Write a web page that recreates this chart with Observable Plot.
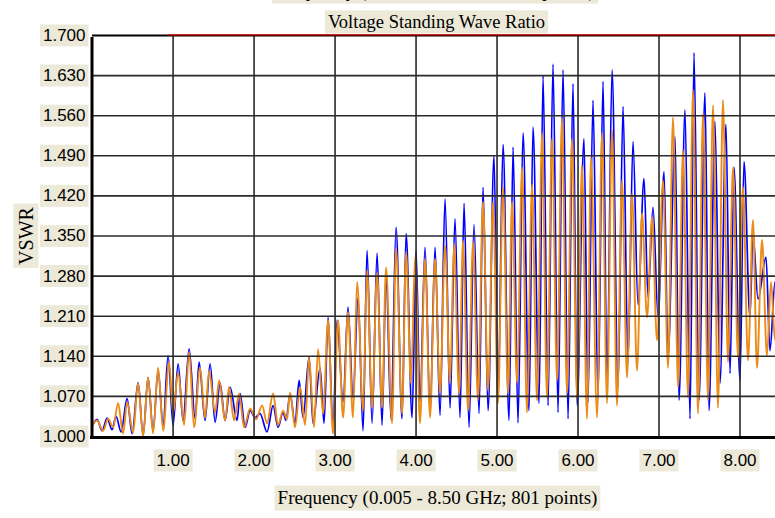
<!DOCTYPE html>
<html><head><meta charset="utf-8">
<script src="https://cdn.jsdelivr.net/npm/d3@7"></script>
<script src="https://cdn.jsdelivr.net/npm/@observablehq/plot@0.6"></script>
<style>html,body{margin:0;padding:0;background:#fff;overflow:hidden}</style>
</head><body>
<script>
// Frequency (GHz) / VSWR, series 1 (blue)
const blueFreq = [0.005,0.062,0.123,0.185,0.247,0.296,0.358,0.432,0.494,0.568,
0.630,0.691,0.753,0.815,0.877,0.938,1.000,1.062,1.123,1.198,
1.272,1.321,1.395,1.457,1.519,1.580,1.642,1.704,1.790,1.827,
1.889,1.951,2.012,2.074,2.160,2.235,2.296,2.358,2.395,2.444,
2.506,2.556,2.605,2.679,2.728,2.815,2.864,2.914,2.975,3.025,
3.099,3.160,3.222,3.284,3.346,3.395,3.457,3.519,3.580,3.630,
3.691,3.753,3.827,3.877,3.951,4.000,4.049,4.111,4.173,4.235,
4.296,4.358,4.420,4.481,4.543,4.593,4.654,4.716,4.778,4.827,
4.889,4.963,5.012,5.074,5.148,5.198,5.259,5.321,5.395,5.444,
5.519,5.568,5.630,5.691,5.753,5.815,5.877,5.938,5.988,6.074,
6.123,6.185,6.247,6.309,6.358,6.420,6.494,6.556,6.617,6.679,
6.741,6.815,6.864,6.926,6.988,7.062,7.111,7.198,7.247,7.321,
7.383,7.432,7.494,7.568,7.617,7.691,7.753,7.827,7.877,7.926,
8.000,8.049,8.123,8.160,8.222,8.321,8.370,8.432,8.494];
const blueVswr = [1.02,1.03,1.01,1.032,1.012,1.035,1.008,1.066,1.005,1.094,
1.002,1.103,1.01,1.115,1.02,1.141,1.02,1.127,1.028,1.153,
1.031,1.13,1.028,1.127,1.025,1.093,1.028,1.086,1.028,1.075,
1.016,1.045,1.033,1.04,1.008,1.054,1.016,1.042,1.028,1.075,
1.023,1.098,1.033,1.138,1.023,1.12,1.023,1.208,1.014,1.203,
1.06,1.226,1.068,1.243,1.01,1.325,1.023,1.32,1.02,1.286,
1.03,1.365,1.031,1.354,1.033,1.325,1.06,1.33,1.04,1.33,
1.037,1.415,1.05,1.38,1.033,1.407,1.016,1.37,1.04,1.435,
1.045,1.49,1.063,1.51,1.028,1.505,1.024,1.53,1.045,1.54,
1.058,1.63,1.054,1.65,1.042,1.64,1.031,1.616,1.054,1.52,
1.06,1.587,1.068,1.62,1.093,1.64,1.086,1.576,1.13,1.515,
1.23,1.45,1.243,1.40,1.208,1.462,1.138,1.523,1.063,1.57,
1.031,1.67,1.063,1.60,1.045,1.55,1.093,1.545,1.11,1.47,
1.098,1.48,1.208,1.355,1.24,1.313,1.15,1.27,1.12];

// series 2 (orange)
const orangeFreq = [0.005,0.062,0.136,0.198,0.259,0.321,0.383,0.432,0.506,0.568,
0.630,0.691,0.753,0.815,0.877,0.951,1.000,1.062,1.136,1.198,
1.259,1.333,1.395,1.444,1.519,1.568,1.642,1.691,1.753,1.815,
1.877,1.951,2.025,2.099,2.160,2.235,2.296,2.358,2.407,2.444,
2.506,2.568,2.630,2.679,2.741,2.790,2.852,2.914,2.975,3.037,
3.099,3.160,3.222,3.272,3.346,3.395,3.457,3.519,3.580,3.630,
3.704,3.753,3.827,3.877,3.938,3.988,4.049,4.111,4.173,4.235,
4.296,4.358,4.420,4.469,4.531,4.580,4.642,4.704,4.765,4.827,
4.889,4.951,5.012,5.074,5.136,5.185,5.247,5.309,5.370,5.432,
5.494,5.556,5.617,5.679,5.741,5.802,5.864,5.926,5.988,6.049,
6.111,6.160,6.235,6.296,6.358,6.420,6.481,6.543,6.605,6.667,
6.728,6.790,6.852,6.914,6.975,7.049,7.111,7.173,7.235,7.296,
7.358,7.420,7.481,7.543,7.605,7.667,7.728,7.790,7.852,7.914,
7.975,8.037,8.099,8.160,8.210,8.272,8.333,8.383,8.432,8.494];
const orangeVswr = [1.02,1.028,1.01,1.031,1.016,1.058,1.005,1.06,1.007,1.093,
1.0,1.103,1.005,1.12,1.01,1.13,1.04,1.112,1.02,1.147,
1.016,1.12,1.033,1.115,1.042,1.098,1.028,1.086,1.028,1.075,
1.016,1.049,1.03,1.054,1.023,1.075,1.02,1.045,1.03,1.077,
1.016,1.086,1.02,1.138,1.016,1.153,1.04,1.203,1.005,1.203,
1.033,1.217,1.033,1.27,1.045,1.29,1.05,1.285,1.05,1.295,
1.023,1.328,1.04,1.322,1.093,1.313,1.023,1.31,1.033,1.31,
1.075,1.333,1.093,1.337,1.075,1.342,1.045,1.34,1.063,1.41,
1.08,1.41,1.058,1.435,1.075,1.41,1.094,1.47,1.042,1.44,
1.063,1.53,1.068,1.52,1.098,1.556,1.075,1.52,1.068,1.473,
1.031,1.487,1.033,1.53,1.058,1.535,1.054,1.447,1.103,1.424,
1.115,1.39,1.208,1.383,1.168,1.447,1.12,1.557,1.086,1.50,
1.068,1.605,1.04,1.564,1.063,1.578,1.05,1.587,1.13,1.47,
1.138,1.436,1.133,1.378,1.12,1.343,1.141,1.27,1.168,1.25];

const xTicks = [1, 2, 3, 4, 5, 6, 7, 8];
const yTicks = [1.000, 1.070, 1.140, 1.210, 1.280, 1.350, 1.420, 1.490, 1.560, 1.630, 1.700];
const freqRange = [0.005, 8.5];
const limitLine = [{from: 0.94, to: 8.5, vswr: 1.7}];
const titleText = "Voltage Standing Wave Ratio";
const xLabelText = "Frequency (0.005 - 8.50 GHz; 801 points)";
const yLabelText = "VSWR";

const blue = blueFreq.map((f, i) => ({f, v: blueVswr[i]}));
const orange = orangeFreq.map((f, i) => ({f, v: orangeVswr[i]}));

const serif = "'Liberation Serif', 'Times New Roman', serif";
const sans = "'Liberation Sans', Arial, sans-serif";

const chart = Plot.plot({
  width: 775,
  height: 518,
  marginLeft: 92,
  marginRight: 0,
  marginTop: 35,
  marginBottom: 82,
  style: {background: "#fff", overflow: "visible"},
  x: {domain: freqRange, range: [92, 780], axis: null},
  y: {domain: [yTicks[0], yTicks[yTicks.length - 1]], axis: null},
  marks: [
    Plot.line(blue, {x: "f", y: "v", stroke: "#0000ff", strokeWidth: 1.7, curve: "monotone-x"}),
    Plot.line(orange, {x: "f", y: "v", stroke: "#ec8c18", strokeWidth: 1.9, curve: "monotone-x"}),
    Plot.ruleY(yTicks.slice(1, -1), {stroke: "#2a2a2a", strokeWidth: 1.6}),
    Plot.ruleX(xTicks, {stroke: "#2a2a2a", strokeWidth: 1.6}),
    Plot.ruleY([yTicks[yTicks.length - 1]], {stroke: "#000", strokeWidth: 2}),
    Plot.ruleY(limitLine, {y: "vswr", x1: "from", x2: "to", stroke: "#e00000", strokeWidth: 1.3, dy: -0.6}),
    Plot.ruleX([freqRange[0]], {stroke: "#000", strokeWidth: 3, dx: -0.5, y1: yTicks[0], y2: yTicks[yTicks.length - 1], insetBottom: -2}),
    Plot.ruleY([yTicks[0]], {stroke: "#000", strokeWidth: 3, dy: 1, insetLeft: -2}),
    Plot.text(yTicks, {y: d => d, text: d => d.toFixed(3), frameAnchor: "left", dx: -7, textAnchor: "end", lineAnchor: "middle",
      fontSize: 17, fontFamily: sans, fill: "#000"}),
    Plot.text(xTicks, {x: d => d, text: d => d.toFixed(2), frameAnchor: "bottom", dy: 24, lineAnchor: "middle",
      fontSize: 17, fontFamily: sans, fill: "#000"}),
    Plot.text([titleText], {text: d => d, frameAnchor: "top", dx: 2.5, dy: -13.5, lineAnchor: "middle",
      fontSize: 18.5, fontFamily: serif, fill: "#000"}),
    Plot.text([xLabelText], {text: d => d, frameAnchor: "top", dx: 1, dy: -44.5, lineAnchor: "middle",
      fontSize: 19, fontFamily: serif, fill: "#000"}),
    Plot.text([xLabelText], {text: d => d, frameAnchor: "bottom", dx: 3.5, dy: 61.5, lineAnchor: "middle",
      fontSize: 19, fontFamily: serif, fill: "#000"}),
    Plot.text([yLabelText], {text: d => d, frameAnchor: "left", dx: -66, rotate: -90, textAnchor: "middle", lineAnchor: "middle",
      fontSize: 20, fontFamily: serif, fill: "#000"})
  ]
});
document.body.append(chart);

// beige label boxes behind every label text
const NS = "http://www.w3.org/2000/svg";
chart.querySelectorAll("text").forEach(t => {
  const b = t.getBBox();
  const r = document.createElementNS(NS, "rect");
  r.setAttribute("x", b.x - 3);
  r.setAttribute("y", b.y - 1.5);
  r.setAttribute("width", b.width + 6);
  r.setAttribute("height", b.height + 3);
  r.setAttribute("fill", "#ECE9D8");
  r.setAttribute("stroke", "none");
  const tr = t.getAttribute("transform");
  if (tr) r.setAttribute("transform", tr);
  t.parentNode.insertBefore(r, t);
});
</script>
</body></html>
